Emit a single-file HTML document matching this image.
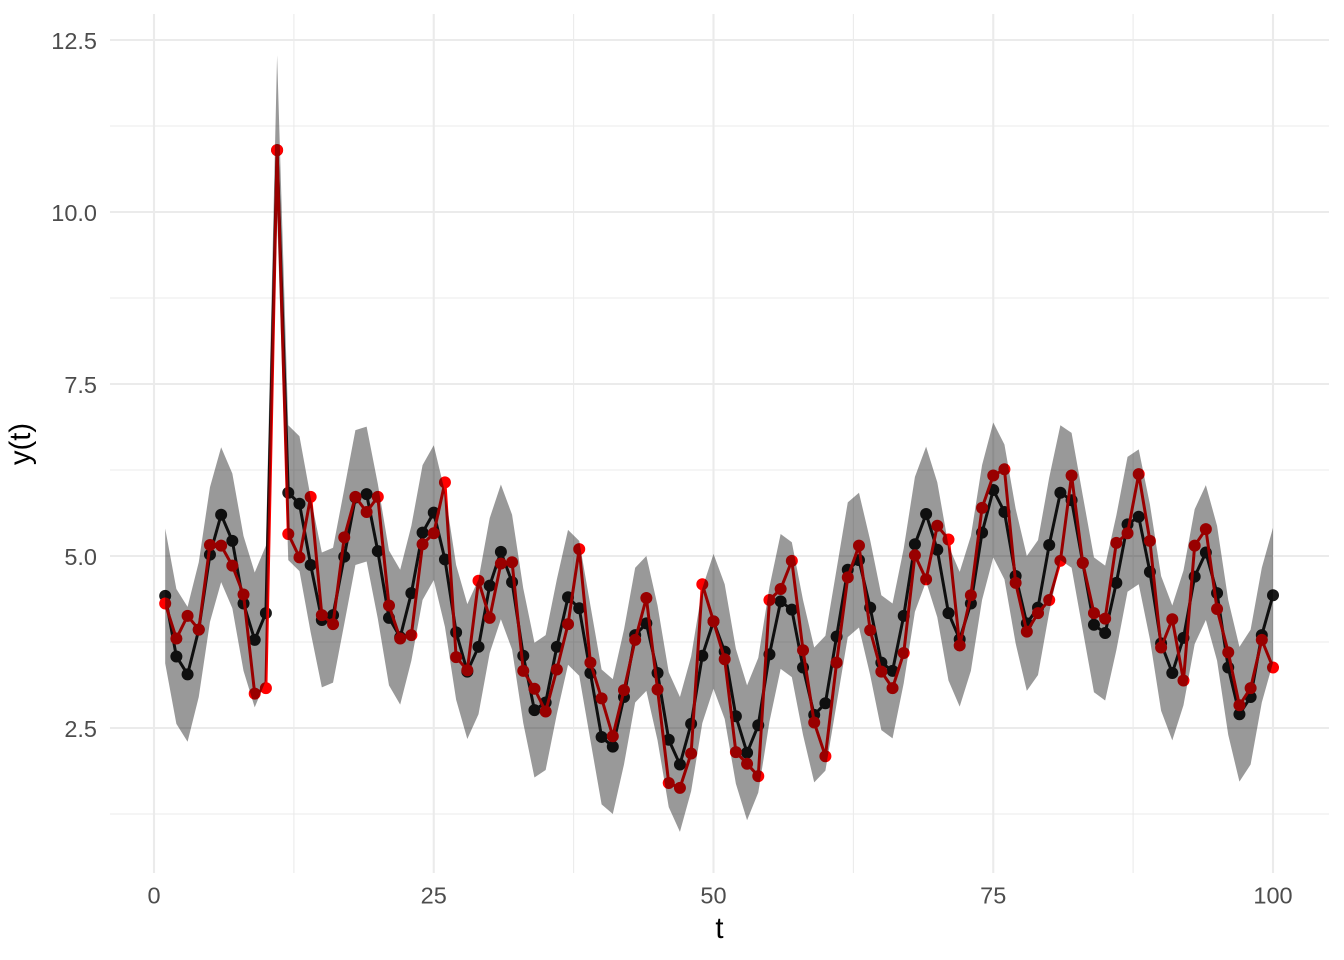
<!DOCTYPE html>
<html>
<head>
<meta charset="utf-8">
<style>
html,body{margin:0;padding:0;background:#fff;}
svg{display:block;}
text{font-family:"Liberation Sans",Arial,sans-serif;}
</style>
</head>
<body>
<svg xmlns="http://www.w3.org/2000/svg" width="1344" height="960" viewBox="0 0 1344 960">
<rect x="0" y="0" width="1344" height="960" fill="#ffffff"/>
<!-- minor grid -->
<g stroke="#ebebeb" stroke-width="1.1" fill="none">
<line x1="110" x2="1329" y1="126" y2="126"/>
<line x1="110" x2="1329" y1="298" y2="298"/>
<line x1="110" x2="1329" y1="470" y2="470"/>
<line x1="110" x2="1329" y1="642" y2="642"/>
<line x1="110" x2="1329" y1="814" y2="814"/>
<line x1="293.9" x2="293.9" y1="14" y2="873"/>
<line x1="573.6" x2="573.6" y1="14" y2="873"/>
<line x1="853.4" x2="853.4" y1="14" y2="873"/>
<line x1="1133.1" x2="1133.1" y1="14" y2="873"/>
</g>
<!-- major grid -->
<g stroke="#ebebeb" stroke-width="2.1" fill="none">
<line x1="110" x2="1329" y1="40" y2="40"/>
<line x1="110" x2="1329" y1="212" y2="212"/>
<line x1="110" x2="1329" y1="384" y2="384"/>
<line x1="110" x2="1329" y1="556" y2="556"/>
<line x1="110" x2="1329" y1="728" y2="728"/>
<line x1="154" x2="154" y1="14" y2="873"/>
<line x1="433.75" x2="433.75" y1="14" y2="873"/>
<line x1="713.5" x2="713.5" y1="14" y2="873"/>
<line x1="993.25" x2="993.25" y1="14" y2="873"/>
<line x1="1273" x2="1273" y1="14" y2="873"/>
</g>

<g transform="matrix(11.19,0,0,-68.8,154,900)">
<polyline fill="none" stroke="#1a1a1a" stroke-width="3" stroke-linejoin="round" vector-effect="non-scaling-stroke"
points="1,4.42 2,3.54 3,3.28 4,3.93 5,5.02 6,5.6 7,5.22 8,4.31 9,3.78 10,4.17 11,10.9 12,5.92 13,5.76 14,4.87 15,4.07 16,4.14 17,4.99 18,5.85 19,5.9 20,5.07 21,4.1 22,3.82 23,4.46 24,5.34 25,5.63 26,4.95 27,3.89 28,3.32 29,3.68 30,4.57 31,5.06 32,4.62 33,3.55 34,2.76 35,2.87 36,3.68 37,4.4 38,4.24 39,3.3 40,2.37 41,2.23 42,2.95 43,3.85 44,4.02 45,3.3 46,2.33 47,1.97 48,2.56 49,3.55 50,4.05 51,3.61 52,2.67 53,2.14 54,2.54 55,3.57 56,4.34 57,4.22 58,3.38 59,2.69 60,2.86 61,3.83 62,4.8 63,4.94 64,4.25 65,3.45 66,3.33 67,4.13 68,5.17 69,5.61 70,5.09 71,4.17 72,3.79 73,4.31 74,5.34 75,5.96 76,5.64 77,4.71 78,4.02 79,4.25 80,5.16 81,5.92 82,5.81 83,4.9 84,4 85,3.88 86,4.61 87,5.46 88,5.57 89,4.77 90,3.73 91,3.3 92,3.81 93,4.7 94,5.05 95,4.46 96,3.38 97,2.7 98,2.95 99,3.85 100,4.43"/>
<path fill="none" stroke="#1a1a1a" stroke-width="12" stroke-linecap="round" vector-effect="non-scaling-stroke"
d="M1 4.42h.001M2 3.54h.001M3 3.28h.001M4 3.93h.001M5 5.02h.001M6 5.6h.001M7 5.22h.001M8 4.31h.001M9 3.78h.001M10 4.17h.001M11 10.9h.001M12 5.92h.001M13 5.76h.001M14 4.87h.001M15 4.07h.001M16 4.14h.001M17 4.99h.001M18 5.85h.001M19 5.9h.001M20 5.07h.001M21 4.1h.001M22 3.82h.001M23 4.46h.001M24 5.34h.001M25 5.63h.001M26 4.95h.001M27 3.89h.001M28 3.32h.001M29 3.68h.001M30 4.57h.001M31 5.06h.001M32 4.62h.001M33 3.55h.001M34 2.76h.001M35 2.87h.001M36 3.68h.001M37 4.4h.001M38 4.24h.001M39 3.3h.001M40 2.37h.001M41 2.23h.001M42 2.95h.001M43 3.85h.001M44 4.02h.001M45 3.3h.001M46 2.33h.001M47 1.97h.001M48 2.56h.001M49 3.55h.001M50 4.05h.001M51 3.61h.001M52 2.67h.001M53 2.14h.001M54 2.54h.001M55 3.57h.001M56 4.34h.001M57 4.22h.001M58 3.38h.001M59 2.69h.001M60 2.86h.001M61 3.83h.001M62 4.8h.001M63 4.94h.001M64 4.25h.001M65 3.45h.001M66 3.33h.001M67 4.13h.001M68 5.17h.001M69 5.61h.001M70 5.09h.001M71 4.17h.001M72 3.79h.001M73 4.31h.001M74 5.34h.001M75 5.96h.001M76 5.64h.001M77 4.71h.001M78 4.02h.001M79 4.25h.001M80 5.16h.001M81 5.92h.001M82 5.81h.001M83 4.9h.001M84 4h.001M85 3.88h.001M86 4.61h.001M87 5.46h.001M88 5.57h.001M89 4.77h.001M90 3.73h.001M91 3.3h.001M92 3.81h.001M93 4.7h.001M94 5.05h.001M95 4.46h.001M96 3.38h.001M97 2.7h.001M98 2.95h.001M99 3.85h.001M100 4.43h.001"/>
<polyline fill="none" stroke="#ff0000" stroke-width="3" stroke-linejoin="round" vector-effect="non-scaling-stroke"
points="1,4.31 2,3.8 3,4.13 4,3.93 5,5.16 6,5.15 7,4.86 8,4.44 9,3 10,3.08 11,10.9 12,5.32 13,4.98 14,5.86 15,4.14 16,4.01 17,5.27 18,5.86 19,5.64 20,5.86 21,4.28 22,3.8 23,3.85 24,5.17 25,5.33 26,6.07 27,3.53 28,3.34 29,4.64 30,4.1 31,4.89 32,4.91 33,3.33 34,3.07 35,2.74 36,3.35 37,4.01 38,5.1 39,3.45 40,2.93 41,2.38 42,3.05 43,3.78 44,4.39 45,3.06 46,1.7 47,1.63 48,2.13 49,4.59 50,4.05 51,3.5 52,2.15 53,1.98 54,1.8 55,4.36 56,4.52 57,4.93 58,3.63 59,2.58 60,2.09 61,3.45 62,4.69 63,5.15 64,3.92 65,3.32 66,3.08 67,3.59 68,5.01 69,4.66 70,5.44 71,5.24 72,3.7 73,4.43 74,5.7 75,6.17 76,6.26 77,4.61 78,3.9 79,4.17 80,4.36 81,4.93 82,6.17 83,4.9 84,4.17 85,4.09 86,5.19 87,5.33 88,6.19 89,5.22 90,3.67 91,4.08 92,3.19 93,5.15 94,5.39 95,4.23 96,3.6 97,2.83 98,3.08 99,3.78 100,3.38"/>
<path fill="none" stroke="#ff0000" stroke-width="12" stroke-linecap="round" vector-effect="non-scaling-stroke"
d="M1 4.31h.001M2 3.8h.001M3 4.13h.001M4 3.93h.001M5 5.16h.001M6 5.15h.001M7 4.86h.001M8 4.44h.001M9 3h.001M10 3.08h.001M11 10.9h.001M12 5.32h.001M13 4.98h.001M14 5.86h.001M15 4.14h.001M16 4.01h.001M17 5.27h.001M18 5.86h.001M19 5.64h.001M20 5.86h.001M21 4.28h.001M22 3.8h.001M23 3.85h.001M24 5.17h.001M25 5.33h.001M26 6.07h.001M27 3.53h.001M28 3.34h.001M29 4.64h.001M30 4.1h.001M31 4.89h.001M32 4.91h.001M33 3.33h.001M34 3.07h.001M35 2.74h.001M36 3.35h.001M37 4.01h.001M38 5.1h.001M39 3.45h.001M40 2.93h.001M41 2.38h.001M42 3.05h.001M43 3.78h.001M44 4.39h.001M45 3.06h.001M46 1.7h.001M47 1.63h.001M48 2.13h.001M49 4.59h.001M50 4.05h.001M51 3.5h.001M52 2.15h.001M53 1.98h.001M54 1.8h.001M55 4.36h.001M56 4.52h.001M57 4.93h.001M58 3.63h.001M59 2.58h.001M60 2.09h.001M61 3.45h.001M62 4.69h.001M63 5.15h.001M64 3.92h.001M65 3.32h.001M66 3.08h.001M67 3.59h.001M68 5.01h.001M69 4.66h.001M70 5.44h.001M71 5.24h.001M72 3.7h.001M73 4.43h.001M74 5.7h.001M75 6.17h.001M76 6.26h.001M77 4.61h.001M78 3.9h.001M79 4.17h.001M80 4.36h.001M81 4.93h.001M82 6.17h.001M83 4.9h.001M84 4.17h.001M85 4.09h.001M86 5.19h.001M87 5.33h.001M88 6.19h.001M89 5.22h.001M90 3.67h.001M91 4.08h.001M92 3.19h.001M93 5.15h.001M94 5.39h.001M95 4.23h.001M96 3.6h.001M97 2.83h.001M98 3.08h.001M99 3.78h.001M100 3.38h.001"/>
<polygon fill="#000000" fill-opacity="0.4" stroke="none"
points="1,5.4 2,4.52 3,4.26 4,4.91 5,6 6,6.58 7,6.2 8,5.29 9,4.76 10,5.15 11,12.28 12,6.9 13,6.74 14,5.85 15,5.05 16,5.12 17,5.97 18,6.83 19,6.88 20,6.05 21,5.08 22,4.8 23,5.44 24,6.32 25,6.61 26,5.93 27,4.87 28,4.3 29,4.66 30,5.55 31,6.04 32,5.6 33,4.53 34,3.74 35,3.85 36,4.66 37,5.38 38,5.22 39,4.28 40,3.35 41,3.21 42,3.93 43,4.83 44,5 45,4.28 46,3.31 47,2.95 48,3.54 49,4.53 50,5.03 51,4.59 52,3.65 53,3.12 54,3.52 55,4.55 56,5.32 57,5.2 58,4.36 59,3.67 60,3.84 61,4.81 62,5.78 63,5.92 64,5.23 65,4.43 66,4.31 67,5.11 68,6.15 69,6.59 70,6.07 71,5.15 72,4.77 73,5.29 74,6.32 75,6.94 76,6.62 77,5.69 78,5 79,5.23 80,6.14 81,6.9 82,6.79 83,5.88 84,4.98 85,4.86 86,5.59 87,6.44 88,6.55 89,5.75 90,4.71 91,4.28 92,4.79 93,5.68 94,6.03 95,5.44 96,4.36 97,3.68 98,3.93 99,4.83 100,5.41 100,3.45 99,2.87 98,1.97 97,1.72 96,2.4 95,3.48 94,4.07 93,3.72 92,2.83 91,2.32 90,2.75 89,3.79 88,4.59 87,4.48 86,3.63 85,2.9 84,3.02 83,3.92 82,4.83 81,4.94 80,4.18 79,3.27 78,3.04 77,3.73 76,4.66 75,4.98 74,4.36 73,3.33 72,2.81 71,3.19 70,4.11 69,4.63 68,4.19 67,3.15 66,2.35 65,2.47 64,3.27 63,3.96 62,3.82 61,2.85 60,1.88 59,1.71 58,2.4 57,3.24 56,3.36 55,2.59 54,1.56 53,1.16 52,1.69 51,2.63 50,3.07 49,2.57 48,1.58 47,0.99 46,1.35 45,2.32 44,3.04 43,2.87 42,1.97 41,1.25 40,1.39 39,2.32 38,3.26 37,3.42 36,2.7 35,1.89 34,1.78 33,2.57 32,3.64 31,4.08 30,3.59 29,2.7 28,2.34 27,2.91 26,3.97 25,4.65 24,4.36 23,3.48 22,2.84 21,3.12 20,4.09 19,4.92 18,4.87 17,4.01 16,3.16 15,3.09 14,3.89 13,4.78 12,4.94 11,9.95 10,3.19 9,2.8 8,3.33 7,4.24 6,4.62 5,4.04 4,2.95 3,2.3 2,2.56 1,3.44"/>
</g>

<!-- y tick labels -->
<g fill="#4d4d4d" font-size="23.5" text-anchor="end">
<text x="97" y="49">12.5</text>
<text x="97" y="221">10.0</text>
<text x="97" y="393">7.5</text>
<text x="97" y="565">5.0</text>
<text x="97" y="737">2.5</text>
</g>
<!-- x tick labels -->
<g fill="#4d4d4d" font-size="23.5" text-anchor="middle">
<text x="154" y="903.5">0</text>
<text x="433.75" y="903.5">25</text>
<text x="713.5" y="903.5">50</text>
<text x="993.25" y="903.5">75</text>
<text x="1273" y="903.5">100</text>
</g>
<!-- axis titles -->
<text x="719.5" y="938" font-size="29.3" text-anchor="middle" fill="#000000">t</text>
<text x="0" y="0" font-size="29.3" text-anchor="middle" fill="#000000" transform="translate(30,444) rotate(-90)">y(t)</text>
</svg>
</body>
</html>
